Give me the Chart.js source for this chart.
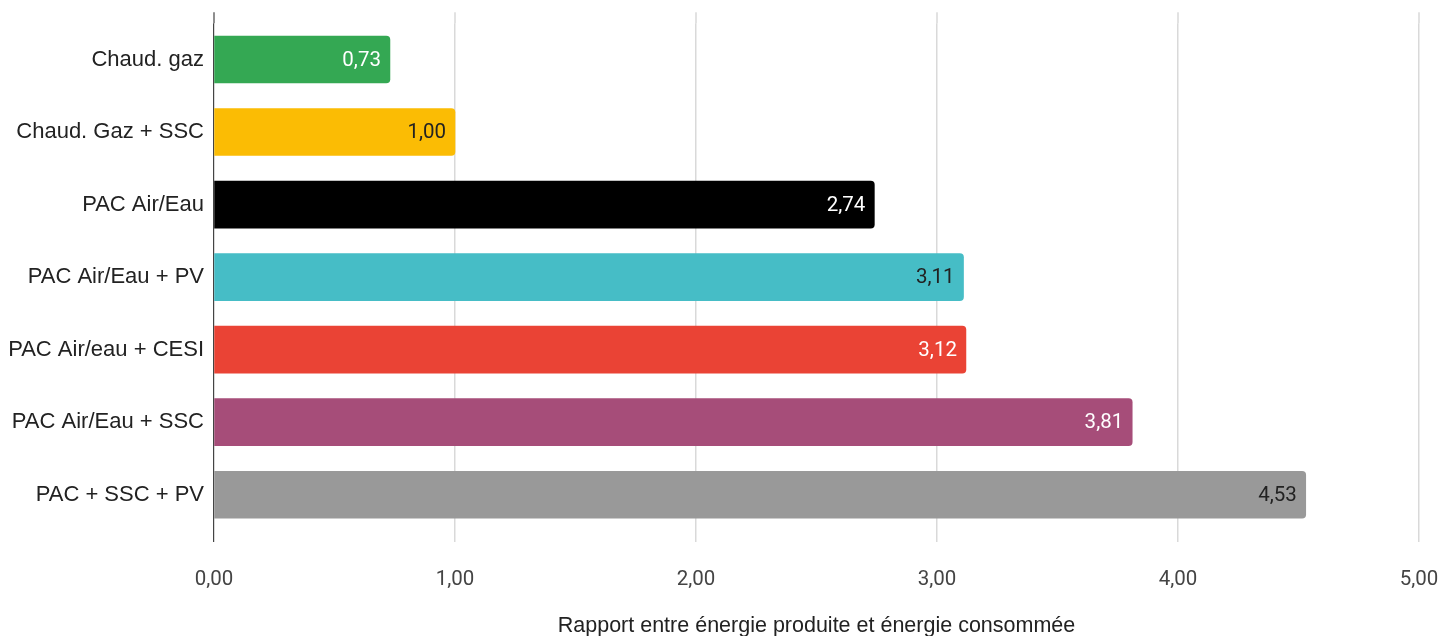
<!DOCTYPE html>
<html>
<head>
<meta charset="utf-8">
<script src="https://cdn.jsdelivr.net/npm/chart.js@4"></script>
<style>
  html, body { margin: 0; padding: 0; background: #fff; }
  #wrap { width: 1443px; height: 636px; }
</style>
</head>
<body>
<div id="wrap"><canvas id="chart" width="1443" height="636"></canvas></div>
<script>
// --- données ---
const categories = [
    'Chaud. gaz',
    'Chaud. Gaz + SSC',
    'PAC Air/Eau',
    'PAC Air/Eau + PV',
    'PAC Air/eau + CESI',
    'PAC Air/Eau + SSC',
    'PAC + SSC + PV'
];
const ratios = [0.73, 1.00, 2.74, 3.11, 3.12, 3.81, 4.53];
const xTicks = [0, 1, 2, 3, 4, 5];
const axisTitle = 'Rapport entre énergie produite et énergie consommée';

const barColors = ['#34a853', '#fbbc04', '#000000', '#46bdc6', '#ea4335', '#a64d79', '#999999'];
const valueColors = ['#ffffff', '#222222', '#ffffff', '#222222', '#ffffff', '#ffffff', '#222222'];

const fmt = v => v.toFixed(2).replace('.', ',');

// Valeurs à l'intérieur de la barre, alignées à droite
const valueLabels = {
    id: 'valueLabels',
    afterDatasetsDraw(chart) {
        const ctx = chart.ctx;
        const meta = chart.getDatasetMeta(0);
        ctx.save();
        ctx.font = '20.5px Roboto';
        ctx.textAlign = 'right';
        ctx.textBaseline = 'middle';
        meta.data.forEach((bar, i) => {
            ctx.fillStyle = valueColors[i];
            ctx.fillText(fmt(ratios[i]), bar.x - 9, bar.y + 1);
        });
        ctx.restore();
    }
};

// Prolonge les lignes verticales au-dessus de la zone du graphique
const gridTop = {
    id: 'gridTop',
    beforeDatasetsDraw(chart) {
        const { ctx, chartArea } = chart;
        const x = chart.scales.x;
        ctx.save();
        x.ticks.forEach((t, i) => {
            const px = Math.round(x.getPixelForValue(t.value));
            ctx.strokeStyle = i === 0 ? '#444444' : '#d9d9d9';
            ctx.lineWidth = i === 0 ? 1.2 : 1.5;
            ctx.beginPath();
            ctx.moveTo(px, chartArea.top - 11);
            ctx.lineTo(px, chartArea.top);
            ctx.stroke();
        });
        ctx.restore();
    }
};

new Chart(document.getElementById('chart'), {
    type: 'bar',
    data: {
        labels: categories,
        datasets: [{
            data: ratios,
            backgroundColor: barColors,
            barThickness: 47,
            borderRadius: 4
        }]
    },
    plugins: [gridTop, valueLabels],
    options: {
        indexAxis: 'y',
        responsive: false,
        animation: false,
        devicePixelRatio: 1,
        layout: { padding: { top: 22, right: 24, bottom: 0, left: 0 } },
        plugins: {
            legend: { display: false },
            tooltip: { enabled: false }
        },
        scales: {
            x: {
                type: 'linear',
                min: 0,
                max: 5,
                afterBuildTicks: scale => { scale.ticks = xTicks.map(v => ({ value: v })); },
                afterFit: scale => {
                    scale.height = 105;
                    scale.paddingLeft = 0;
                    scale.paddingRight = 0;
                },
                border: { display: false },
                grid: {
                    color: ctx => ctx.index === 0 ? '#444444' : '#d9d9d9',
                    lineWidth: ctx => ctx.index === 0 ? 1.2 : 1.5,
                    tickLength: 11
                },
                ticks: {
                    color: '#444444',
                    font: { family: 'Roboto', size: 20.5 },
                    padding: 26,
                    callback: v => fmt(v)
                },
                title: {
                    display: true,
                    text: axisTitle,
                    color: '#222222',
                    font: { family: '"Liberation Sans", Arial', size: 21.5 },
                    padding: { top: 0, bottom: -3 }
                }
            },
            y: {
                afterFit: scale => { scale.width = 214; },
                border: { display: false },
                grid: { display: false, drawTicks: false },
                ticks: {
                    color: '#222222',
                    font: { family: '"Liberation Sans", Arial', size: 22 },
                    padding: 10
                }
            }
        }
    }
});
</script>
</body>
</html>
